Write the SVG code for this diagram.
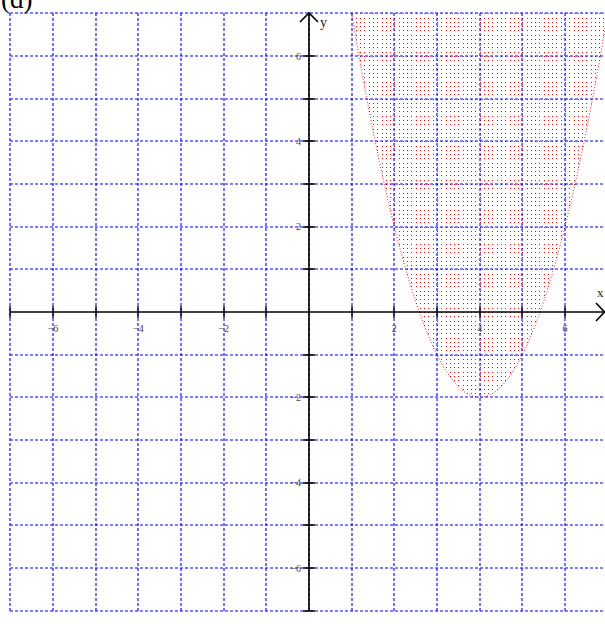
<svg xmlns="http://www.w3.org/2000/svg" width="605" height="624" viewBox="0 0 605 624">
<style>
.grid{stroke:#0000ff;stroke-width:1.1;stroke-dasharray:3,2;fill:none}
.axis{stroke:#000;stroke-width:1.6;fill:none}
.tick{stroke:#000;stroke-width:1.3}
.lbl{font-family:"Liberation Serif",serif;font-size:10px;fill:#444}
.ax{font-family:"Liberation Serif",serif;font-size:14px;fill:#222}
.d{fill:#ff0000}
</style>
<defs>
<g id="row">
<rect class="d" x="0" width="1" height="1"/><rect class="d" x="4" width="1" height="1"/><rect class="d" x="9" width="1" height="1"/><rect class="d" x="13" width="1" height="1"/><rect class="d" x="17" width="1" height="1"/><rect class="d" x="21" width="1" height="1"/><rect class="d" x="26" width="1" height="1"/><rect class="d" x="30" width="1" height="1"/><rect class="d" x="34" width="1" height="1"/><rect class="d" x="38" width="1" height="1"/><rect class="d" x="43" width="1" height="1"/><rect class="d" x="47" width="1" height="1"/><rect class="d" x="51" width="1" height="1"/><rect class="d" x="55" width="1" height="1"/><rect class="d" x="60" width="1" height="1"/>
</g>
<pattern id="dots" patternUnits="userSpaceOnUse" x="309" y="312" width="64" height="64">
<use href="#row" y="0"/><use href="#row" y="4"/><use href="#row" y="9"/><use href="#row" y="13"/><use href="#row" y="17"/><use href="#row" y="21"/><use href="#row" y="26"/><use href="#row" y="30"/><use href="#row" y="34"/><use href="#row" y="38"/><use href="#row" y="43"/><use href="#row" y="47"/><use href="#row" y="51"/><use href="#row" y="55"/><use href="#row" y="60"/>
</pattern>
</defs>
<rect width="605" height="624" fill="#fff"/>
<g id="region">
<path d="M351.67,13.33 Q479.67,781.33 607.67,13.33 Z" fill="url(#dots)"/>
<path d="M351.67,13.33 Q479.67,781.33 607.67,13.33" fill="none" stroke="#ff0000" stroke-width="1" stroke-dasharray="1,2"/>
</g>
<g id="grid" class="grid">
<path d="M10,13V611M53,13V611M96,13V611M138,13V611M181,13V611M224,13V611M266,13V611M309,13V611M352,13V611M394,13V611M437,13V611M480,13V611M522,13V611M565,13V611"/>
<path d="M10,13H605M10,56H605M10,99H605M10,141H605M10,184H605M10,227H605M10,269H605M10,355H605M10,397H605M10,440H605M10,483H605M10,525H605M10,568H605M10,611H605"/>
</g>
<g id="axes">
<path class="axis" d="M10,312H604"/>
<path class="axis" d="M309,611V13.33"/>
<path class="axis" d="M596,303L604.5,312L596,321"/>
<path class="axis" d="M300,22L309,13L318,22"/>
<path class="tick" d="M10,306V318M53,306V318M96,306V318M138,306V318M181,306V318M224,306V318M266,306V318M352,306V318M394,306V318M437,306V318M480,306V318M522,306V318M565,306V318"/>
<path class="tick" d="M303,56H315M303,99H315M303,141H315M303,184H315M303,227H315M303,269H315M303,355H315M303,397H315M303,440H315M303,483H315M303,525H315M303,568H315M303,611H315"/>
<text class="ax" x="597" y="297" style="font-size:13px">x</text>
<text class="ax" x="320" y="27">y</text>
</g>
<g id="labels" class="lbl">
<text x="53" y="332" text-anchor="middle">−6</text>
<text x="138.33" y="332" text-anchor="middle">−4</text>
<text x="223.67" y="332" text-anchor="middle">−2</text>
<text x="394.33" y="332" text-anchor="middle">2</text>
<text x="479.67" y="332" text-anchor="middle">4</text>
<text x="565" y="332" text-anchor="middle">6</text>
<text x="301" y="60" text-anchor="end">6</text>
<text x="301" y="145" text-anchor="end">4</text>
<text x="301" y="230" text-anchor="end">2</text>
<text x="301" y="401" text-anchor="end">−2</text>
<text x="301" y="486" text-anchor="end">−4</text>
<text x="301" y="572" text-anchor="end">−6</text>
</g>
<text id="title" x="1" y="8" style="font-family:'Liberation Serif',serif;font-size:27px;fill:#000">(d)</text>
</svg>
